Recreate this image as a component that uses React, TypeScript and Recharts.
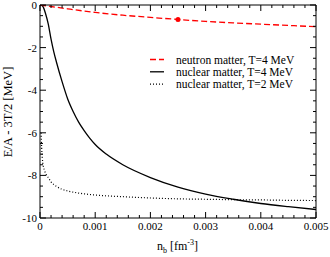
import { ComposedChart, Line, Scatter, XAxis, YAxis } from "recharts";

const FONT = "Liberation Serif, Times New Roman, serif";

// n_b [fm^-3] grid and E/A - 3T/2 [MeV]
const neutronN = [0, 0.0002, 0.0005, 0.001, 0.0015, 0.002, 0.0025, 0.003, 0.0035, 0.004, 0.0045, 0.005];
const neutronE = [0, -0.07, -0.18, -0.35, -0.48, -0.58, -0.68, -0.77, -0.84, -0.9, -0.96, -1.02];

const nuc4N = [
  0, 0.00003, 0.00006, 0.0001, 0.00015, 0.0002, 0.00025, 0.0003, 0.0004, 0.0005, 0.0006, 0.0007,
  0.0008, 0.0009, 0.001, 0.0012, 0.0015, 0.002, 0.0025, 0.003, 0.0035, 0.004, 0.0045, 0.005,
];
const nuc4E = [
  0, -0.02, -0.1, -0.4, -0.9, -1.6, -2.2, -2.7, -3.6, -4.4, -5.0, -5.5,
  -5.9, -6.25, -6.55, -7.0, -7.5, -8.1, -8.55, -8.88, -9.12, -9.32, -9.47, -9.6,
];

const nuc2N = [
  0.00002, 0.00003, 0.00005, 0.00008, 0.00011, 0.00015, 0.0002, 0.0003, 0.0004, 0.0005, 0.0007,
  0.001, 0.0015, 0.002, 0.0025, 0.003, 0.0035, 0.004, 0.0045, 0.005,
];
const nuc2E = [
  -6.0, -6.7, -7.4, -7.75, -7.95, -8.1, -8.3, -8.52, -8.65, -8.73, -8.83,
  -8.92, -9.0, -9.06, -9.1, -9.12, -9.14, -9.15, -9.17, -9.18,
];

// highlighted point on the neutron matter curve
const markerN = [0.0025];
const markerE = [-0.68];

const xMajor = [0, 0.001, 0.002, 0.003, 0.004, 0.005];
const xMinor = [
  0, 0.0002, 0.0004, 0.0006, 0.0008, 0.001, 0.0012, 0.0014, 0.0016, 0.0018, 0.002, 0.0022,
  0.0024, 0.0026, 0.0028, 0.003, 0.0032, 0.0034, 0.0036, 0.0038, 0.004, 0.0042, 0.0044,
  0.0046, 0.0048, 0.005,
];
const yMajor = [0, -2, -4, -6, -8, -10];
const yMinor = [
  0, -0.5, -1, -1.5, -2, -2.5, -3, -3.5, -4, -4.5, -5, -5.5, -6, -6.5, -7, -7.5, -8, -8.5,
  -9, -9.5, -10,
];

const legendItems = [
  { label: "neutron matter, T=4 MeV", color: "#ff0000", dash: "6 3" },
  { label: "nuclear matter, T=4 MeV", color: "#000000", dash: undefined },
  { label: "nuclear matter, T=2 MeV", color: "#000000", dash: "1 2" },
];

const toPoints = (xs: number[], ys: number[]) => xs.map((x, i) => ({ x, y: ys[i] }));

const isMajor = (v: number, majors: number[]) => majors.some((m) => Math.abs(m - v) < 1e-9);

const fmtX = (v: number) => (v === 0 ? "0" : v.toFixed(3));

const textStyle = { fontFamily: FONT, fill: "#000" };

/* inward tick marks (+ labels for major ticks) drawn from the axis line */
function BottomTick({ x, y, payload }: any) {
  const major = isMajor(payload.value, xMajor);
  return (
    <g>
      <line x1={x} y1={y} x2={x} y2={y - (major ? 6 : 3)} stroke="#000" strokeWidth={1} />
      {major && (
        <text x={x} y={y + 12} textAnchor="middle" style={{ ...textStyle, fontSize: 11 }}>
          {fmtX(payload.value)}
        </text>
      )}
    </g>
  );
}

function TopTick({ x, y, payload }: any) {
  const major = isMajor(payload.value, xMajor);
  return <line x1={x} y1={y} x2={x} y2={y + (major ? 6 : 3)} stroke="#000" strokeWidth={1} />;
}

function LeftTick({ x, y, payload }: any) {
  const major = isMajor(payload.value, yMajor);
  return (
    <g>
      <line x1={x} y1={y} x2={x + (major ? 6 : 3)} y2={y} stroke="#000" strokeWidth={1} />
      {major && (
        <text x={x - 3} y={y + 4} textAnchor="end" style={{ ...textStyle, fontSize: 11 }}>
          {String(payload.value)}
        </text>
      )}
    </g>
  );
}

function RightTick({ x, y, payload }: any) {
  const major = isMajor(payload.value, yMajor);
  return <line x1={x} y1={y} x2={x - (major ? 6 : 3)} y2={y} stroke="#000" strokeWidth={1} />;
}

export default function App() {
  const xDomain: [number, number] = [0, 0.005];
  const yDomain: [number, number] = [-10, 0];
  const axisLine = { stroke: "#000", strokeWidth: 1 };

  return (
    <div style={{ position: "absolute", left: 0, top: 0, width: 330, height: 257, background: "#fff" }}>
      <ComposedChart width={330} height={257} margin={{ top: 4, right: 13, bottom: 15, left: 10 }}>
        <XAxis
          xAxisId="b"
          type="number"
          dataKey="x"
          domain={xDomain}
          allowDataOverflow
          ticks={xMinor}
          interval={0}
          height={24}
          tickSize={0}
          tickMargin={0}
          tickLine={false}
          axisLine={axisLine}
          tick={<BottomTick />}
        />
        <XAxis
          xAxisId="t"
          orientation="top"
          type="number"
          dataKey="x"
          domain={xDomain}
          allowDataOverflow
          ticks={xMinor}
          interval={0}
          height={1}
          tickSize={0}
          tickMargin={0}
          tickLine={false}
          axisLine={axisLine}
          tick={<TopTick />}
        />
        <YAxis
          yAxisId="l"
          type="number"
          dataKey="y"
          domain={yDomain}
          allowDataOverflow
          ticks={yMinor}
          interval={0}
          width={30}
          tickSize={0}
          tickMargin={0}
          tickLine={false}
          axisLine={axisLine}
          tick={<LeftTick />}
        />
        <YAxis
          yAxisId="r"
          orientation="right"
          type="number"
          dataKey="y"
          domain={yDomain}
          allowDataOverflow
          ticks={yMinor}
          interval={0}
          width={1}
          tickSize={0}
          tickMargin={0}
          tickLine={false}
          axisLine={axisLine}
          tick={<RightTick />}
        />

        <Line
          xAxisId="b"
          yAxisId="l"
          data={toPoints(nuc2N, nuc2E)}
          dataKey="y"
          type="monotone"
          stroke="#000"
          strokeWidth={1.2}
          strokeDasharray="1 2"
          dot={false}
          activeDot={false}
          isAnimationActive={false}
        />
        <Line
          xAxisId="b"
          yAxisId="l"
          data={toPoints(nuc4N, nuc4E)}
          dataKey="y"
          type="monotone"
          stroke="#000"
          strokeWidth={1.3}
          dot={false}
          activeDot={false}
          isAnimationActive={false}
        />
        <Line
          xAxisId="b"
          yAxisId="l"
          data={toPoints(neutronN, neutronE)}
          dataKey="y"
          type="monotone"
          stroke="#ff0000"
          strokeWidth={1.3}
          strokeDasharray="6 3"
          dot={false}
          activeDot={false}
          isAnimationActive={false}
        />
        <Scatter
          xAxisId="b"
          yAxisId="l"
          data={toPoints(markerN, markerE)}
          dataKey="y"
          fill="#ff0000"
          shape={(p: any) => <circle cx={p.cx} cy={p.cy} r={2.5} fill="#ff0000" />}
          isAnimationActive={false}
        />

        {/* legend */}
        <g>
          {legendItems.map((item, i) => {
            const cy = 59.5 + i * 12.3;
            return (
              <g key={item.label}>
                <line
                  x1={150}
                  x2={164}
                  y1={cy}
                  y2={cy}
                  stroke={item.color}
                  strokeWidth={1.3}
                  strokeDasharray={item.dash}
                />
                <text x={176} y={cy + 4} style={{ ...textStyle, fontSize: 11.5 }}>
                  {item.label}
                </text>
              </g>
            );
          })}
        </g>

        {/* axis titles */}
        <text
          x={0}
          y={0}
          transform="translate(12,112) rotate(-90)"
          textAnchor="middle"
          style={{ ...textStyle, fontSize: 12.5 }}
        >
          E/A - 3T/2 [MeV]
        </text>
        <text x={157} y={250} style={{ ...textStyle, fontSize: 12 }}>
          n
          <tspan fontSize={8} dy={3}>
            b
          </tspan>
          <tspan dy={-3}> [fm</tspan>
          <tspan fontSize={8} dy={-5}>
            -3
          </tspan>
          <tspan dy={5}>]</tspan>
        </text>
      </ComposedChart>
    </div>
  );
}
